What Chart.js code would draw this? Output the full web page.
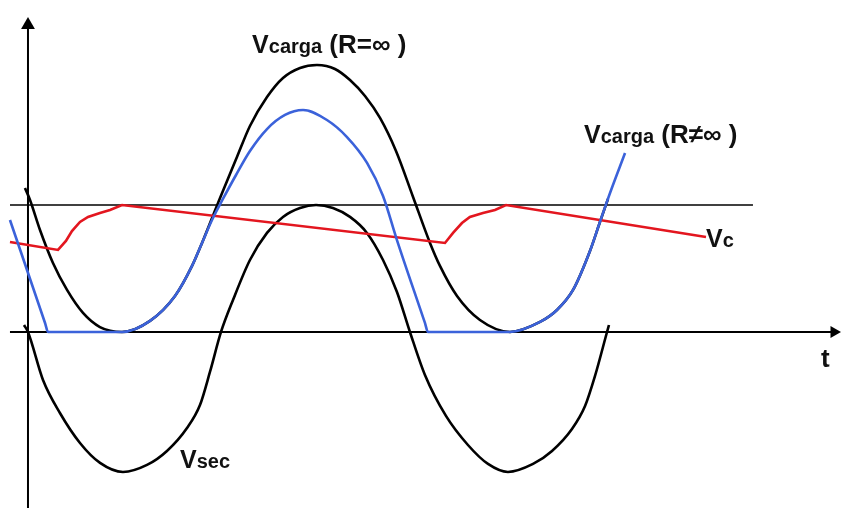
<!DOCTYPE html>
<html>
<head>
<meta charset="utf-8">
<script src="https://cdn.jsdelivr.net/npm/chart.js@4.4.0/dist/chart.umd.min.js"></script>
<style>
  html, body { margin: 0; padding: 0; background: #fff; }
  canvas { display: block; }
</style>
</head>
<body>
<canvas id="myChart" width="841" height="508"></canvas>
<script>
// t in degrees of the mains cycle, V in volts (capacitor charges to 10 V)
let vsecT = [-3.7, 0, 14.0, 29.8, 48.5, 67.2, 88.6, 111.0, 129.6, 148.3, 160.4, 169.7, 180.0, 191.2, 207.0, 222.9, 237.8, 253.7, 268.6, 284.4, 300.3, 316.1, 331.1, 344.1, 356.2, 370.2, 389.8, 410.3, 429.0, 447.6, 471.0, 488.7, 507.3, 519.5, 528.8, 540.0, 541.8];
let vsecV = [0.55, 0, -3.78, -6.38, -8.74, -10.31, -11.02, -10.47, -9.37, -7.56, -5.75, -3.15, 0, 2.52, 5.67, 7.80, 9.06, 9.76, 10.0, 9.76, 9.06, 7.80, 5.67, 3.15, 0, -3.39, -6.61, -8.90, -10.39, -11.02, -10.39, -9.37, -7.64, -5.83, -3.46, 0, 0.55];

let cargaT = [-2.8, 1.9, 11.2, 23.3, 36.4, 51.3, 67.1, 87.7, 113.8, 137.1, 153.0, 162.3, 179.1, 194.9, 207.0, 222.9, 237.8, 253.7, 269.5, 286.3, 300.3, 314.3, 328.3, 343.2, 359.1, 374.9, 384.2, 400.1, 421.5, 449.5, 477.5, 493.3, 508.3, 524.1, 533.4, 540.9];
let cargaV = [11.34, 10.39, 8.03, 5.43, 3.31, 1.50, 0.39, 0, 0.87, 2.83, 5.20, 7.01, 10.55, 13.78, 16.22, 18.50, 20.0, 20.79, 21.02, 20.71, 19.84, 18.58, 16.85, 14.25, 10.63, 7.01, 5.20, 2.83, 0.94, 0, 0.79, 1.73, 3.31, 6.38, 8.66, 10.47];

let cargaRT = [-16.8, 15.9, 18.7, 87.7, 113.8, 137.1, 153.0, 162.3, 171.6, 182.8, 194.0, 207.0, 222.9, 239.7, 256.5, 278.8, 297.5, 316.2, 331.1, 344.1, 370.2, 373.0, 449.5, 477.5, 493.3, 508.3, 524.1, 533.4, 542.8, 556.8];
let cargaRV = [8.82, 0.71, 0, 0, 0.87, 2.83, 5.20, 7.01, 8.82, 10.63, 12.36, 14.25, 15.98, 17.09, 17.48, 16.69, 15.35, 13.31, 10.71, 7.24, 0.71, 0, 0, 0.79, 1.73, 3.31, 6.38, 8.66, 10.94, 14.09];

let vcT = [-16.8, 28.0, 35.4, 41.0, 48.5, 56.0, 67.1, 76.5, 87.7, 388.9, 396.4, 404.7, 412.1, 424.3, 435.5, 445.8, 632.3];
let vcV = [7.09, 6.46, 7.17, 7.95, 8.66, 9.06, 9.37, 9.61, 10.0, 7.01, 7.80, 8.58, 9.06, 9.37, 9.61, 10.0, 7.48];

// reference level and axes
let levelT = [-16.8, 676.1];
let levelV = [10, 10];
let tAxisT = [-16.8, 755.4];
let vAxisV = [-13.86, 24.6];

function pts(t, v) {
  return t.map((x, i) => ({x: x, y: v[i]}));
}

const ink = '#000000';
const blue = '#3b62da';
const red = '#e3161f';

const textPlugin = {
  id: 'waveLabels',
  afterDatasetsDraw(chart) {
    const ctx = chart.ctx;
    const xs = chart.scales.x;
    const ys = chart.scales.y;
    const labels = [
      {t: 209.0, v: 21.97, parts: [['V', 25], ['carga', 20], [' (R=\u221E )', 26]]},
      {t: 518.5, v: 14.88, parts: [['V', 25], ['carga', 20], [' (R\u2260\u221E )', 26]]},
      {t: 632.3, v: 6.69, parts: [['V', 25], ['c', 20]]},
      {t: 141.8, v: -10.71, parts: [['V', 25], ['sec', 20]]},
      {t: 739.5, v: -2.76, parts: [['t', 26]]}
    ];
    ctx.save();
    ctx.fillStyle = '#111';
    ctx.textBaseline = 'alphabetic';
    ctx.textAlign = 'left';
    labels.forEach(l => {
      let px = xs.getPixelForValue(l.t);
      let py = ys.getPixelForValue(l.v);
      l.parts.forEach(p => {
        ctx.font = 'bold ' + p[1] + 'px "Liberation Sans", Arial, sans-serif';
        ctx.fillText(p[0], px, py);
        px += ctx.measureText(p[0]).width;
      });
    });
    ctx.restore();
  }
};

let ctx = document.getElementById('myChart').getContext('2d');

let myChart = new Chart(ctx, {
  type: 'line',
  data: {
    datasets: [
      {
        // arrow heads at the axis ends
        data: [{x: 0, y: vAxisV[1] - 0.43}, {x: tAxisT[1] - 3.7, y: 0}],
        showLine: false,
        pointStyle: 'triangle',
        pointRadius: [8, 7],
        pointRotation: [0, 90],
        pointBackgroundColor: ink,
        pointBorderColor: ink,
        pointBorderWidth: 0
      },
      {
        label: 'Vcarga (R≠∞)',
        data: pts(cargaRT, cargaRV),
        borderColor: blue,
        borderWidth: 2.6,
        pointRadius: 0,
        cubicInterpolationMode: 'monotone'
      },
      {
        label: 'Vc',
        data: pts(vcT, vcV),
        borderColor: red,
        borderWidth: 2.6,
        pointRadius: 0,
        tension: 0
      },
      {
        label: 'Vcarga (R=∞)',
        data: pts(cargaT, cargaV),
        borderColor: ink,
        borderWidth: 2.6,
        pointRadius: 0,
        cubicInterpolationMode: 'monotone'
      },
      {
        label: 'Vsec',
        data: pts(vsecT, vsecV),
        borderColor: ink,
        borderWidth: 2.6,
        pointRadius: 0,
        cubicInterpolationMode: 'monotone'
      },
      {
        data: pts(levelT, levelV),
        borderColor: ink,
        borderWidth: 1.5,
        pointRadius: 0
      },
      {
        data: pts(tAxisT, [0, 0]),
        borderColor: ink,
        borderWidth: 2,
        pointRadius: 0
      },
      {
        data: pts([0, 0], vAxisV),
        borderColor: ink,
        borderWidth: 2,
        pointRadius: 0
      }
    ]
  },
  options: {
    responsive: false,
    animation: false,
    events: [],
    layout: {
      padding: 0,
      autoPadding: false
    },
    scales: {
      x: {type: 'linear', min: -26.1, max: 758.2, display: false},
      y: {type: 'linear', min: -13.86, max: 26.14, display: false}
    },
    plugins: {
      legend: {display: false},
      tooltip: {enabled: false}
    }
  },
  plugins: [textPlugin]
});
</script>
</body>
</html>
